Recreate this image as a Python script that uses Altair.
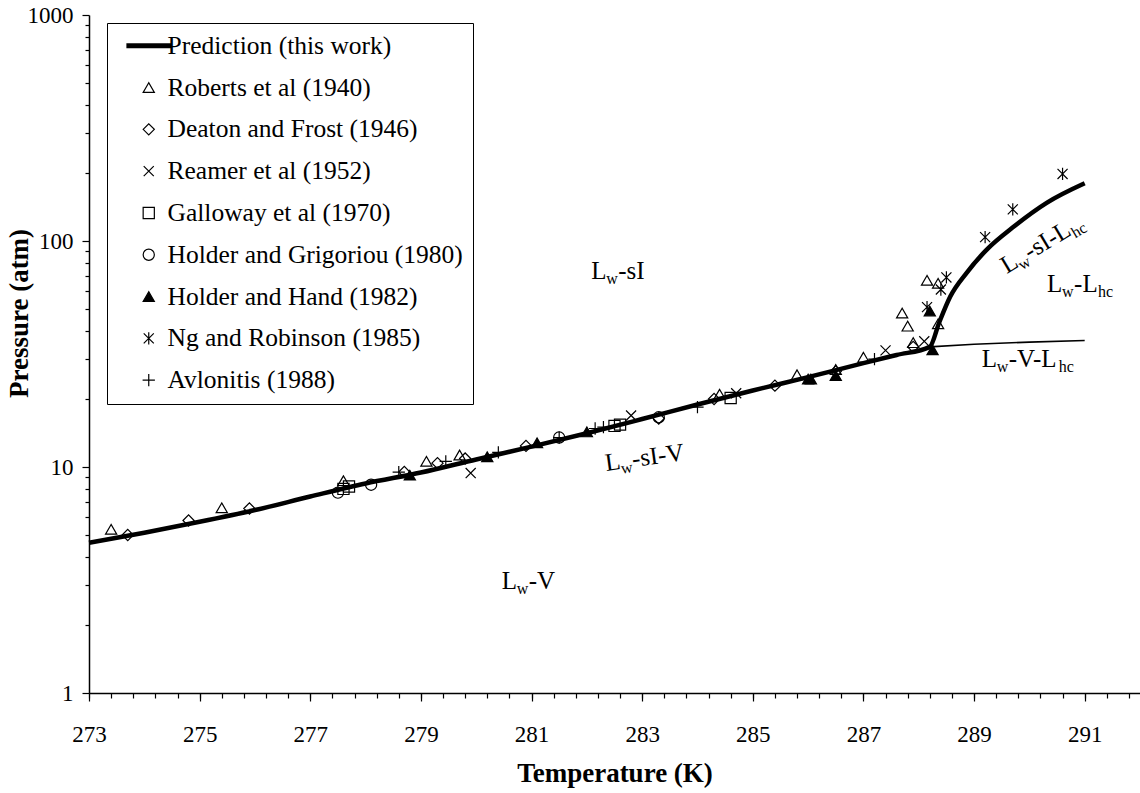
import altair as alt
import pandas as pd

SERIF = "Liberation Serif"

# ---- model prediction (this work) ----
# hydrate / water / vapour line, continuing into the Lw-sI-Lhc branch above the quadruple point
pred_T = [273.0, 274.0, 275.0, 276.0, 277.0, 278.0, 279.0, 280.0, 281.0, 282.0,
          283.0, 284.0, 285.0, 286.0, 287.0, 287.6, 288.2, 288.37, 288.57, 288.87,
          289.23, 289.72, 290.32, 291.0]
pred_P = [4.62, 5.12, 5.72, 6.45, 7.4, 8.45, 9.45, 10.8, 12.3, 14.1,
          16.3, 18.9, 21.8, 25.0, 28.8, 31.3, 34.0, 43.6, 56.8, 72.5,
          91.6, 115.8, 147.8, 180.0]
# Lw-V-Lhc line
vlhc_T = [288.2, 289.0, 290.0, 291.0]
vlhc_P = [34.0, 34.9, 35.7, 36.3]

# ---- experimental data ----
roberts_T = [273.4, 275.4, 277.6, 279.1, 279.7, 284.4, 285.8, 286.5, 287.0, 287.7, 287.8, 287.9, 288.15, 288.35, 288.35]
roberts_P = [5.3, 6.6, 8.7, 10.6, 11.3, 21.0, 25.6, 27.0, 30.6, 48.0, 42.0, 35.5, 67.0, 43.0, 65.0]

deaton_T = [273.7, 274.8, 275.9, 278.7, 279.3, 279.8, 280.9, 283.3, 284.3, 285.4, 286.5, 287.9]
deaton_P = [5.0, 5.8, 6.55, 9.5, 10.4, 10.9, 12.4, 16.4, 20.0, 22.9, 26.5, 34.0]

reamer_T = [279.9, 282.8, 284.7, 287.4, 288.1]
reamer_P = [9.4, 16.9, 21.2, 32.8, 36.0]

galloway_T = [277.6, 277.7, 282.5, 282.6, 284.6]
galloway_P = [8.0, 8.2, 15.2, 15.4, 20.2]

grigoriou_T = [277.5, 278.1, 281.5, 283.3]
grigoriou_P = [7.7, 8.35, 13.5, 16.6]

hand_T = [278.8, 280.2, 281.1, 282.0, 286.0, 286.05, 286.5, 288.25, 288.2]
hand_P = [9.2, 11.1, 12.8, 14.3, 24.5, 24.5, 25.4, 33.0, 49.0]

ng_T = [288.15, 288.4, 288.5, 289.2, 289.7, 290.6]
ng_P = [51.0, 61.0, 69.0, 104.0, 138.0, 198.0]

avlonitis_T = [278.6, 279.45, 280.4, 281.5, 282.15, 282.3, 284.0, 287.2]
avlonitis_P = [9.5, 10.6, 11.6, 13.5, 14.8, 15.0, 18.4, 30.0]

PRED = "Prediction (this work)"
series = [
    ("Roberts et al (1940)", roberts_T, roberts_P),
    ("Deaton and Frost (1946)", deaton_T, deaton_P),
    ("Reamer et al (1952)", reamer_T, reamer_P),
    ("Galloway et al (1970)", galloway_T, galloway_P),
    ("Holder and Grigoriou (1980)", grigoriou_T, grigoriou_P),
    ("Holder and Hand (1982)", hand_T, hand_P),
    ("Ng and Robinson (1985)", ng_T, ng_P),
    ("Avlonitis (1988)", avlonitis_T, avlonitis_P),
]
legend_order = [PRED] + [s[0] for s in series]

pts = pd.DataFrame(
    [{"series": name, "T": t, "P": p} for name, Ts, Ps in series for t, p in zip(Ts, Ps)]
)
pred_df = pd.DataFrame({"T": pred_T, "P": pred_P})
vlhc_df = pd.DataFrame({"T": vlhc_T, "P": vlhc_P})

# ---- axes ----
x_labels = [273, 275, 277, 279, 281, 283, 285, 287, 289, 291]
x_minor = [round(273 + 0.4 * i, 1) for i in range(48)]
y_labels = [1, 10, 100, 1000]
y_ticks = [m * 10 ** e for e in range(3) for m in range(1, 10)] + [1000]
y_major = f"indexof({y_labels}, datum.value) >= 0"

x_scale = alt.Scale(domain=[273, 292], nice=False, zero=False)
y_scale = alt.Scale(type="log", domain=[1, 1000], nice=False)

# labelled axis with the long ticks every 2 K
x_axis_major = alt.Axis(
    values=x_labels, format="d", orient="bottom",
    tickSize=8, grid=False, labelOverlap=False, labelFlush=False,
    labelFont=SERIF, labelFontSize=23, labelColor="black", labelPadding=22,
    titleFont=SERIF, titleFontSize=27, titleFontWeight="bold", titleColor="black", titlePadding=14,
    domainColor="black", domainWidth=1.5, tickColor="black", tickWidth=1.2,
)
# short ticks every 0.4 K
x_axis_minor = alt.Axis(
    values=x_minor, orient="bottom", labels=False, title=None, domain=False,
    tickSize=5, grid=False, tickColor="black", tickWidth=1.2,
)
y_axis = alt.Axis(
    values=y_ticks,
    labelExpr=f"({y_major}) ? '' + datum.value : ''",
    tickSize={"condition": {"test": y_major, "value": 7}, "value": 4},
    grid=False, labelOverlap=False, labelFlush=False,
    labelFont=SERIF, labelFontSize=23, labelColor="black", labelPadding=9,
    titleFont=SERIF, titleFontSize=27, titleFontWeight="bold", titleColor="black",
    titleX=-56, titleY=298,
    domainColor="black", domainWidth=1.5, tickColor="black", tickWidth=1.2,
)

x_plain = alt.X("T:Q", scale=x_scale, axis=None)

# ---- legend (one merged legend for shape / fill / stroke / stroke width) ----
shapes = ["M-4,0L4,0", "triangle-up", "diamond", "M-0.9,-0.9L0.9,0.9M-0.9,0.9L0.9,-0.9",
          "square", "circle", "triangle-up", "M-0.9,-0.9L0.9,0.9M-0.9,0.9L0.9,-0.9M0,-1.1L0,1.1",
          "M-1.1,0L1.1,0M0,-1.1L0,1.1"]
fills = ["transparent"] * 6 + ["black", "transparent", "transparent"]
strokes = ["black"] * 9
widths = [5, 1.2, 1.2, 1.2, 1.2, 1.2, 1.2, 1.2, 1.2]

legend = alt.Legend(
    title=None, orient="none", legendX=18, legendY=8,
    labelFont=SERIF, labelFontSize=25.5, labelColor="black", labelLimit=500,
    symbolSize=125,
    padding=10, symbolOffset=19, labelOffset=6, rowPadding=14.8,
    strokeColor="black", fillColor="white",
)

lines = alt.Chart(pred_df).mark_line(color="black", strokeWidth=4.5, interpolate="monotone").encode(
    x=alt.X("T:Q", scale=x_scale, axis=x_axis_major, title="Temperature (K)"),
    y=alt.Y("P:Q", scale=y_scale, axis=y_axis, title="Pressure (atm)"),
)
thin = alt.Chart(vlhc_df).mark_line(color="black", strokeWidth=1.6).encode(
    x=alt.X("T:Q", scale=x_scale, axis=x_axis_minor),
    y="P:Q",
)

points = alt.Chart(pts).mark_point(filled=False, size=125, opacity=1).encode(
    x=x_plain, y="P:Q",
    shape=alt.Shape("series:N", scale=alt.Scale(domain=legend_order, range=shapes), legend=legend),
    fill=alt.Fill("series:N", scale=alt.Scale(domain=legend_order, range=fills), legend=legend),
    stroke=alt.Stroke("series:N", scale=alt.Scale(domain=legend_order, range=strokes), legend=legend),
    strokeWidth=alt.StrokeWidth("series:N", scale=alt.Scale(type="ordinal", domain=legend_order, range=widths), legend=legend),
)

# ---- phase-region labels: anchor (T, P), angle, pieces (text, dx, dy, font size) ----
region_labels = [
    (282.08, 67.9, 0, [("L", 0, 0, 25), ("w", 15, 5, 16), ("-sI", 27, 0, 25)]),
    (282.35, 9.6, -8, [("L", 0, 0, 25), ("w", 15, 5, 16), ("-sI-V", 27, 0, 25)]),
    (280.46, 2.88, 0, [("L", 0, 0, 25), ("w", 15, 5, 16), ("-V", 27, 0, 25)]),
    (290.32, 59.5, 0, [("L", 0, 0, 25), ("w", 15, 5, 16), ("-L", 27, 0, 25), ("hc", 51, 5, 16)]),
    (289.14, 27.7, 0, [("L", 0, 0, 25), ("w", 15, 5, 16), ("-V-L", 27, 0, 25), ("hc", 77, 5, 16)]),
    (289.59, 71.5, -31, [("L", 0, 0, 25), ("w", 15, 5, 16), ("-sI-L", 27, 0, 25), ("hc", 77, 5, 16)]),
]
texts = []
for t, p, ang, pieces in region_labels:
    for txt, dx, dy, fs in pieces:
        texts.append(
            alt.Chart(pd.DataFrame({"T": [t], "P": [p], "label": [txt]})).mark_text(
                font=SERIF, fontSize=fs, color="black", align="left", baseline="alphabetic",
                dx=dx, dy=dy, angle=(360 + ang) % 360,
            ).encode(x=x_plain, y="P:Q", text="label:N")
        )

chart = alt.layer(lines, thin, points, *texts).resolve_axis(x="independent").properties(
    width=1051, height=678,
    padding={"left": 89, "top": 15, "right": 0, "bottom": 100},
    autosize="none", background="white",
).configure_view(stroke=None)

chart.save("out.html", embed_options={"renderer": "svg", "actions": False})
